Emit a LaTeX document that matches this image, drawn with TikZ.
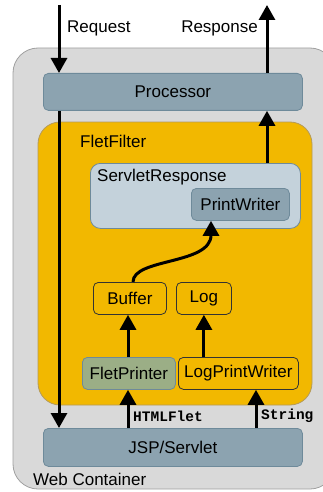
\documentclass[tikz,border=0pt]{standalone}
\usepackage{fontspec}
\setmainfont{Liberation Sans}
\setmonofont{Liberation Mono}
\usetikzlibrary{arrows.meta}
\definecolor{contfill}{HTML}{D9D9D9}
\definecolor{contline}{HTML}{A0A0A0}
\definecolor{steel}{HTML}{8CA3B0}
\definecolor{steelline}{HTML}{6E8A9A}
\definecolor{filter}{HTML}{F2B800}
\definecolor{filterline}{HTML}{B49A5A}
\definecolor{paleblue}{HTML}{C4D2DB}
\definecolor{sage}{HTML}{9BAE86}
\begin{document}
\begin{tikzpicture}[x=1pt,y=-1pt,
  every node/.style={font=\fontsize{17}{20}\selectfont, inner sep=0pt},
  region/.style={draw, line width=0.8pt},
  box/.style={draw, line width=0.8pt, rounded corners=5pt, anchor=north west},
  steelbox/.style={box, fill=steel, draw=steelline},
  yelbox/.style={box, fill=filter, draw=black!80},
  lbl/.style={anchor=west},
  codelbl/.style={anchor=west, font=\fontsize{14.5}{17}\selectfont\ttfamily\bfseries},
  arr/.style={line width=3pt, -{Triangle[width=16pt,length=15pt]}},
  plain/.style={line width=3pt}]
\useasboundingbox (0,0) rectangle (323,492);
\begin{scope}
\clip (0,0) rectangle (323,492);
% web container
\draw[region, fill=contfill, draw=contline, rounded corners=25pt] (13,48) rectangle (335,489);
\end{scope}
\node[lbl] (wc) at (33,479) {Web Container};

% outer boxes
\node[steelbox, minimum width=259pt, minimum height=37pt] (proc) at (43,73) {Processor};
\node[steelbox, minimum width=259pt, minimum height=38pt] (jsp) at (43,428) {JSP/Servlet};

% filter
\draw[region, fill=filter, draw=filterline, rounded corners=22pt] (38,122) rectangle (312,405);
\node[lbl] (ff) at (80,141) {FletFilter};

% servlet response
\node[box, fill=paleblue, draw=steelline, rounded corners=10pt, minimum width=210pt, minimum height=65pt] (sr) at (90,163) {};
\node[lbl] (srl) at (97,177) {ServletResponse};
\node[steelbox, minimum width=98pt, minimum height=32pt] (pw) at (191,188) {PrintWriter};

% inner boxes
\node[yelbox, minimum width=73pt, minimum height=32pt] (buf) at (93,282) {Buffer};
\node[yelbox, minimum width=55pt, minimum height=32pt] (log) at (176,282) {Log};
\node[box, fill=sage, draw=steelline, minimum width=93pt, minimum height=32pt] (fp) at (82,357) {FletPrinter};
\node[yelbox, minimum width=120pt, minimum height=32pt] (lpw) at (178,357) {LogPrintWriter};

% request / response flow
\coordinate (reqtop) at (59,5);
\coordinate (resptop) at (267,5);
\node[lbl] (req) at (67,28) {Request};
\node[anchor=east] (resp) at (258,28) {Response};
\draw[arr] (reqtop) -- (reqtop |- proc.north);
\draw[arr] (reqtop |- proc.south) -- (reqtop |- jsp.north);
\draw[arr] (resptop |- proc.north) -- (resptop);
\draw[arr] (resptop |- sr.north) -- (resptop |- proc.south);

% internal connectors
\draw[arr] ([xshift=40pt]buf.north west) .. controls +(0,-24) and +(0,44) .. ([xshift=20pt]pw.south west);
\draw[arr] (fp.north -| {(128,0)}) -- (buf.south -| {(128,0)});
\draw[arr] (lpw.north -| log.south) -- (log.south);
\draw[arr] (jsp.north -| {(128,0)}) -- (fp.south -| {(128,0)});
\draw[arr] (jsp.north -| {(256,0)}) -- (lpw.south -| {(256,0)});
\node[codelbl] (html) at (133,416) {HTMLFlet};
\node[codelbl] (str) at (261,416) {String};
\end{tikzpicture}
\end{document}
